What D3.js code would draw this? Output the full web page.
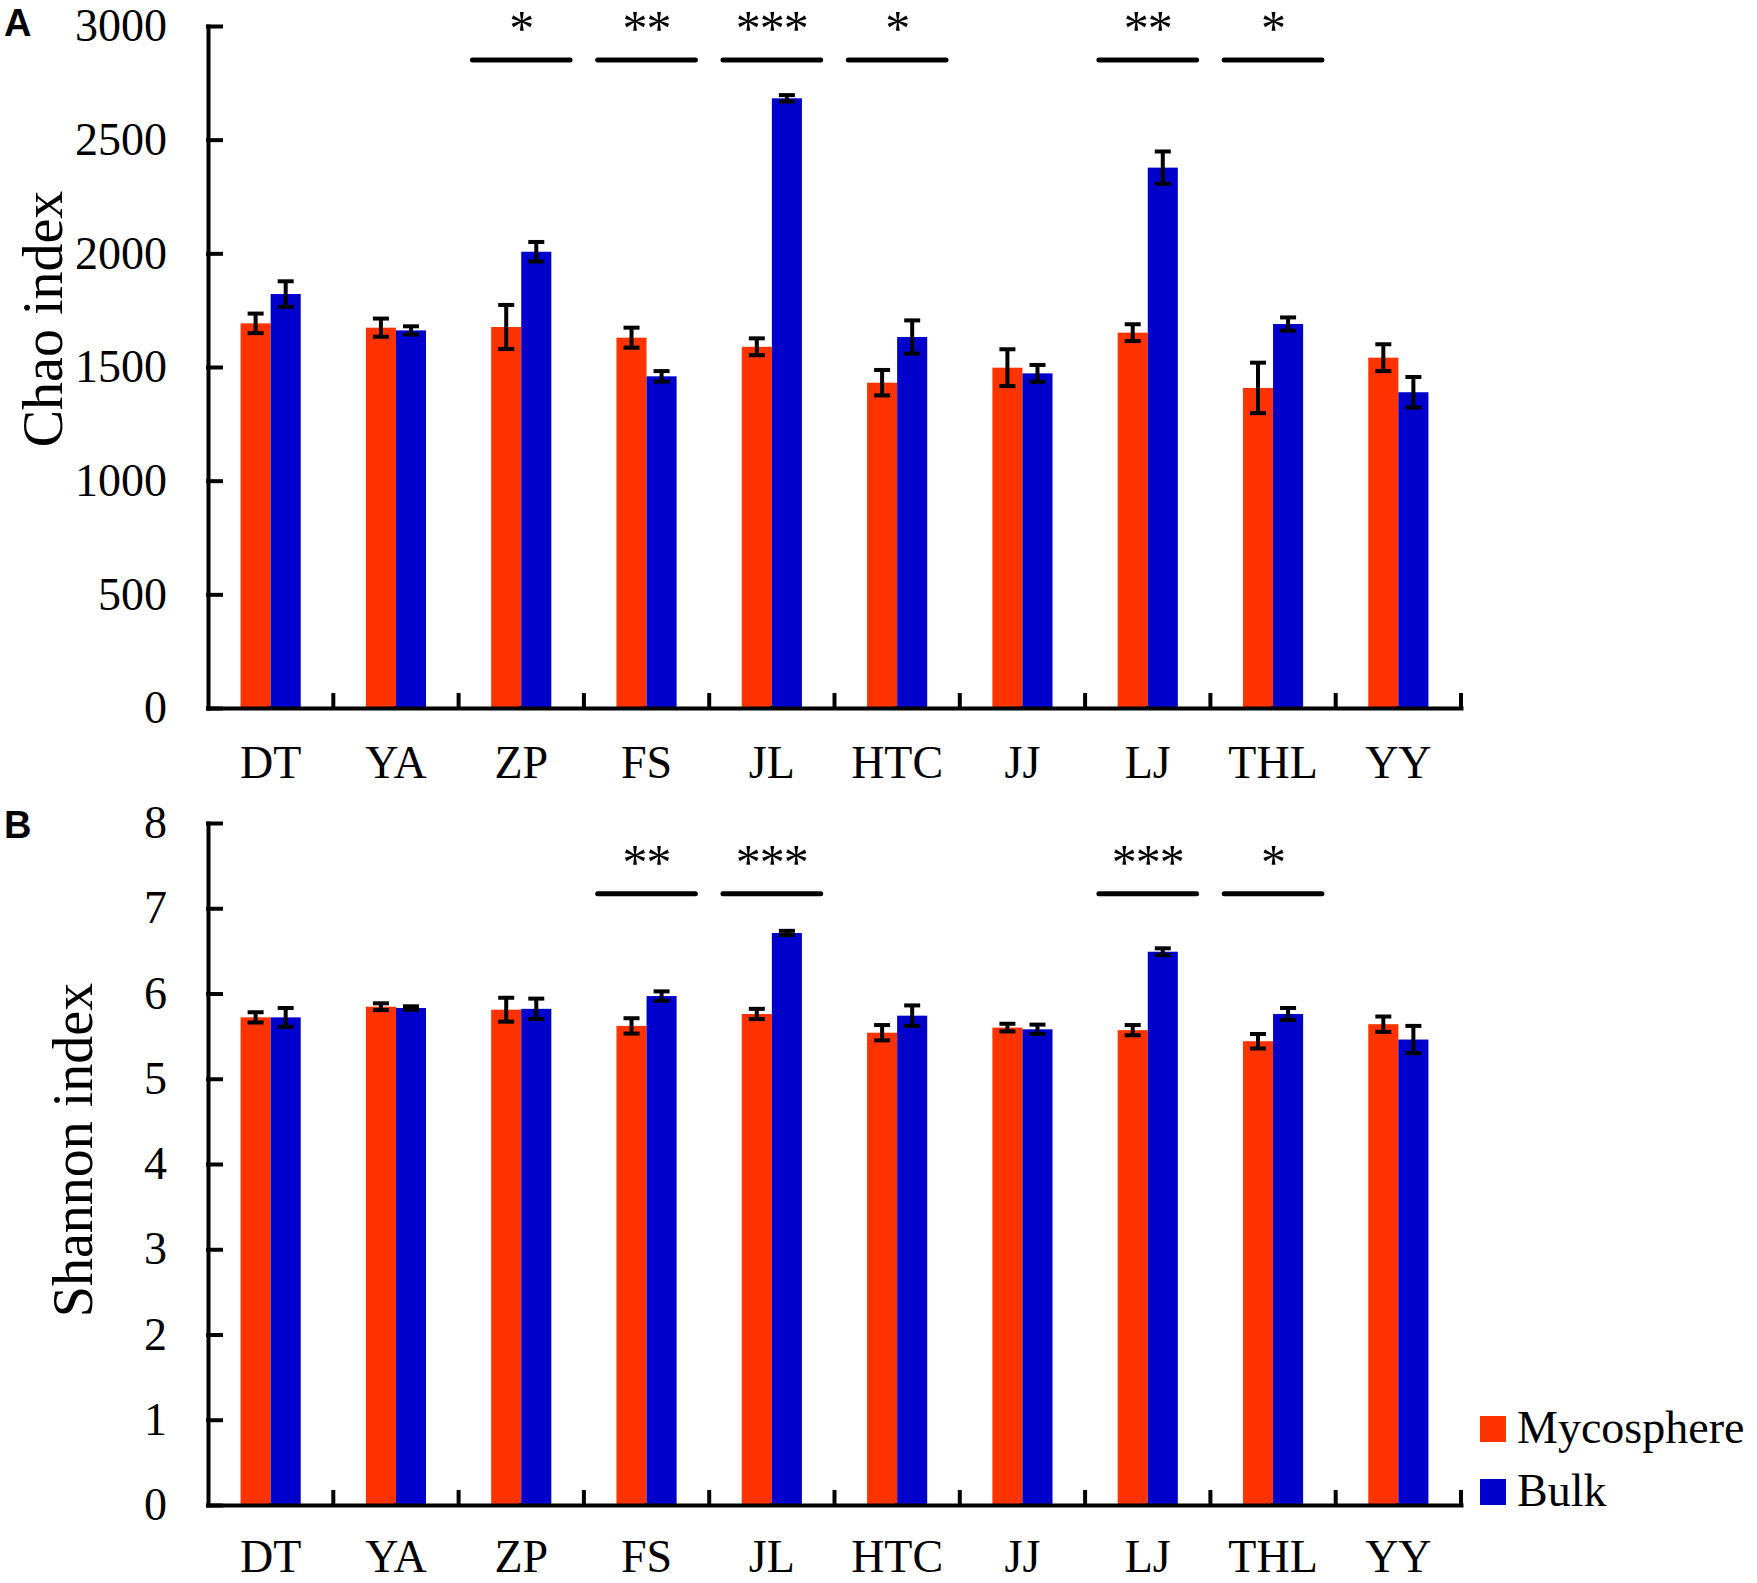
<!DOCTYPE html>
<html>
<head>
<meta charset="utf-8">
<script src="https://cdn.jsdelivr.net/npm/d3@7"></script>
<style>
  body { margin: 0; background: #fff; }
  svg { display: block; font-family: "Liberation Serif", "Times New Roman", serif; }
  .axis path, .axis line { stroke: #000; stroke-width: 4; stroke-linecap: square; }
  .axis text { font-size: 46px; fill: #000; font-family: "Liberation Serif", "Times New Roman", serif; }
</style>
</head>
<body>
<script>
// sites on the x axis
const categories = ["DT", "YA", "ZP", "FS", "JL", "HTC", "JJ", "LJ", "THL", "YY"];
const seriesNames = ["Mycosphere", "Bulk"];
const seriesColors = ["#ff3300", "#0000cc"];

// panel A: Chao index (mean, +/- error)
const chaoMyco    = [1692, 1673, 1676, 1629, 1589, 1431, 1497, 1651, 1408, 1541];
const chaoMycoErr = [43, 40, 97, 44, 37, 56, 81, 37, 111, 59];
const chaoBulk    = [1821, 1661, 2007, 1459, 2682, 1632, 1472, 2377, 1689, 1389];
const chaoBulkErr = [56, 18, 43, 23, 14, 73, 37, 71, 29, 67];
const chaoSig     = ["", "", "*", "**", "***", "*", "", "**", "*", ""];
const chaoTicks   = [0, 500, 1000, 1500, 2000, 2500, 3000];

// panel B: Shannon index
const shannonMyco    = [5.72, 5.845, 5.81, 5.62, 5.76, 5.54, 5.60, 5.57, 5.44, 5.64];
const shannonMycoErr = [0.06, 0.04, 0.14, 0.09, 0.06, 0.09, 0.045, 0.06, 0.085, 0.09];
const shannonBulk    = [5.72, 5.83, 5.82, 5.97, 6.71, 5.74, 5.58, 6.49, 5.76, 5.46];
const shannonBulkErr = [0.11, 0.02, 0.12, 0.055, 0.025, 0.12, 0.055, 0.04, 0.07, 0.16];
const shannonSig     = ["", "", "", "**", "***", "", "", "***", "*", ""];
const shannonTicks   = [0, 1, 2, 3, 4, 5, 6, 7, 8];

let w = 1757;
let h = 1583;
let left = 208;
let right = 1461;
let tickLen = 13;
let capW = 16;

let svg = d3.select("body").append("svg").attr("width", w).attr("height", h);

let x0 = d3.scaleBand().domain(categories).range([left, right]).padding(0);
let x1 = d3.scaleBand().domain(seriesNames)
    .range([x0.bandwidth() * 0.26, x0.bandwidth() * 0.74]);

drawPanel({
    letter: "A", letterY: 36,
    title: "Chao index", titleX: 62, titleY: 319,
    top: 26, bottom: 708, labelPad: 37,
    domain: [0, 3000], ticks: chaoTicks,
    myco: chaoMyco, mycoErr: chaoMycoErr,
    bulk: chaoBulk, bulkErr: chaoBulkErr,
    sig: chaoSig, sigLevel: 2850
});

drawPanel({
    letter: "B", letterY: 838,
    title: "Shannon index", titleX: 92, titleY: 1150,
    top: 823, bottom: 1505, labelPad: 34,
    domain: [0, 8], ticks: shannonTicks,
    myco: shannonMyco, mycoErr: shannonMycoErr,
    bulk: shannonBulk, bulkErr: shannonBulkErr,
    sig: shannonSig, sigLevel: 7.17
});

// legend
let legend = svg.append("g").attr("transform", "translate(1480, 1416)");
seriesNames.forEach(function(name, i) {
    legend.append("rect")
        .attr("x", 0).attr("y", i * 63)
        .attr("width", 26).attr("height", 26)
        .attr("fill", seriesColors[i]);
    legend.append("text")
        .attr("x", 37).attr("y", i * 63 + 27)
        .style("font-size", "46px")
        .text(name);
});

function drawPanel(p) {
    let y = d3.scaleLinear().domain(p.domain).range([p.bottom, p.top]);
    let g = svg.append("g");

    let rows = categories.map(function(c, i) {
        return {
            cat: c,
            sig: p.sig[i],
            vals: [
                {s: "Mycosphere", v: p.myco[i], e: p.mycoErr[i], c: seriesColors[0]},
                {s: "Bulk", v: p.bulk[i], e: p.bulkErr[i], c: seriesColors[1]}
            ]
        };
    });

    let grp = g.selectAll("g.cat")
        .data(rows)
        .enter()
        .append("g")
        .attr("class", "cat")
        .attr("transform", d => "translate(" + x0(d.cat) + ",0)");

    grp.selectAll("rect")
        .data(d => d.vals)
        .enter()
        .append("rect")
        .attr("x", d => x1(d.s))
        .attr("width", x1.bandwidth())
        .attr("y", d => y(d.v))
        .attr("height", d => y(0) - y(d.v))
        .attr("fill", d => d.c);

    // error bars
    let eb = grp.selectAll("g.err")
        .data(d => d.vals)
        .enter()
        .append("g")
        .attr("class", "err")
        .attr("stroke", "#000")
        .attr("stroke-width", 4);
    eb.append("line")
        .attr("x1", d => x1(d.s) + x1.bandwidth() / 2)
        .attr("x2", d => x1(d.s) + x1.bandwidth() / 2)
        .attr("y1", d => y(d.v + d.e))
        .attr("y2", d => y(d.v - d.e));
    eb.append("line")
        .attr("x1", d => x1(d.s) + x1.bandwidth() / 2 - capW / 2)
        .attr("x2", d => x1(d.s) + x1.bandwidth() / 2 + capW / 2)
        .attr("y1", d => y(d.v + d.e))
        .attr("y2", d => y(d.v + d.e));
    eb.append("line")
        .attr("x1", d => x1(d.s) + x1.bandwidth() / 2 - capW / 2)
        .attr("x2", d => x1(d.s) + x1.bandwidth() / 2 + capW / 2)
        .attr("y1", d => y(d.v - d.e))
        .attr("y2", d => y(d.v - d.e));

    // significance marks
    let sigRows = rows.filter(d => d.sig !== "");
    let lineY = y(p.sigLevel);
    g.selectAll("line.sig")
        .data(sigRows)
        .enter()
        .append("line")
        .attr("class", "sig")
        .attr("x1", d => x0(d.cat) + x0.bandwidth() * 0.11)
        .attr("x2", d => x0(d.cat) + x0.bandwidth() * 0.89)
        .attr("y1", lineY)
        .attr("y2", lineY)
        .attr("stroke", "#000")
        .attr("stroke-width", 5)
        .attr("stroke-linecap", "round");
    g.selectAll("text.sig")
        .data(sigRows)
        .enter()
        .append("text")
        .attr("class", "sig")
        .attr("x", d => x0(d.cat) + x0.bandwidth() / 2)
        .attr("y", lineY - 15)
        .attr("text-anchor", "middle")
        .style("font-size", "50px")
        .style("letter-spacing", "-1px")
        .text(d => d.sig);

    // y axis, ticks pointing inward
    g.append("g")
        .attr("class", "axis")
        .attr("transform", "translate(" + left + ",0)")
        .call(d3.axisLeft(y).tickValues(p.ticks).tickFormat(d3.format("d"))
            .tickSizeInner(-tickLen).tickSizeOuter(0).tickPadding(41));

    // x axis, labels at category centres
    let xAxis = g.append("g")
        .attr("class", "axis")
        .attr("transform", "translate(0," + p.bottom + ")")
        .call(d3.axisBottom(x0).tickSize(0).tickPadding(p.labelPad));
    xAxis.selectAll("line.btick")
        .data(categories)
        .enter()
        .append("line")
        .attr("class", "btick")
        .attr("x1", d => x0(d) + x0.bandwidth())
        .attr("x2", d => x0(d) + x0.bandwidth())
        .attr("y1", 0)
        .attr("y2", -tickLen);

    // axis title
    svg.append("text")
        .attr("transform", "translate(" + p.titleX + "," + p.titleY + ") rotate(-90)")
        .attr("text-anchor", "middle")
        .style("font-size", "56px")
        .text(p.title);

    // panel letter
    svg.append("text")
        .attr("x", 4)
        .attr("y", p.letterY)
        .style("font-family", "'Liberation Sans', Arial, sans-serif")
        .style("font-weight", "bold")
        .style("font-size", "38px")
        .text(p.letter);
}
</script>
</body>
</html>
